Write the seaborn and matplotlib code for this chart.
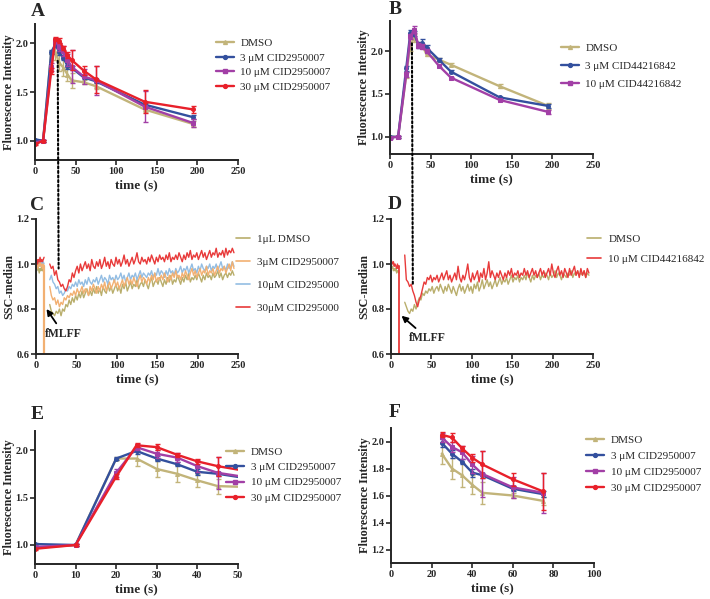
import matplotlib
matplotlib.use("Agg")
import matplotlib.pyplot as plt
import numpy as np
import seaborn as sns
from matplotlib.lines import Line2D
from matplotlib.patches import ConnectionPatch

# ---------- data: calcium flux (A, E, F share the same series) ----------
t_flux = [0, 10, 20, 25, 30, 35, 40, 45, 60, 75, 135, 195]

dmso_a = [0.97, 1.00, 1.91, 1.91, 1.80, 1.75, 1.68, 1.62, 1.60, 1.56, 1.32, 1.17]
dmso_a_err = [0.01, 0.01, 0.02, 0.08, 0.08, 0.09, 0.07, 0.08, 0.02, 0.03, 0.03, 0.03]
cid3_a = [1.01, 1.00, 1.91, 1.99, 1.91, 1.85, 1.77, 1.75, 1.65, 1.61, 1.37, 1.24]
cid3_a_err = [0.01, 0.01, 0.02, 0.03, 0.03, 0.02, 0.03, 0.02, 0.02, 0.02, 0.02, 0.02]
cid10_a = [0.98, 1.00, 1.76, 2.03, 1.96, 1.92, 1.83, 1.76, 1.66, 1.62, 1.35, 1.18]
cid10_a_err = [0.01, 0.01, 0.04, 0.03, 0.04, 0.05, 0.06, 0.17, 0.08, 0.15, 0.16, 0.04]
cid30_a = [0.96, 1.00, 1.72, 2.05, 2.03, 1.95, 1.88, 1.83, 1.72, 1.63, 1.40, 1.32]
cid30_a_err = [0.01, 0.01, 0.03, 0.02, 0.03, 0.02, 0.03, 0.10, 0.05, 0.14, 0.12, 0.04]

dmso_b = [1.00, 1.00, 1.72, 2.08, 2.15, 2.08, 2.06, 1.96, 1.90, 1.84, 1.59, 1.36]
dmso_b_err = [0.01, 0.01, 0.03, 0.08, 0.05, 0.03, 0.02, 0.02, 0.02, 0.02, 0.02, 0.03]
c44_3_b = [1.00, 1.00, 1.80, 2.21, 2.20, 2.07, 2.09, 2.04, 1.90, 1.76, 1.46, 1.36]
c44_3_b_err = [0.01, 0.01, 0.03, 0.03, 0.03, 0.03, 0.05, 0.03, 0.02, 0.02, 0.01, 0.02]
c44_10_b = [0.99, 1.00, 1.73, 2.17, 2.25, 2.06, 2.05, 2.00, 1.83, 1.69, 1.43, 1.29]
c44_10_b_err = [0.01, 0.01, 0.03, 0.03, 0.04, 0.03, 0.03, 0.02, 0.02, 0.01, 0.01, 0.02]

# ---------- data: SSC-median traces (C, D) ----------
t_pre = list(range(0, 11))
t_post = list(range(17, 246, 2))
drop_t = [9, 10, 10]
drop_val = [0.99, 0.99, 0.50]

c_red_pre = [1.01, 1.02, 1.00, 1.02, 1.01, 1.03, 1.01, 1.02, 1.01, 1.02, 1.03]
c_blue_pre = [1.00, 1.01, 0.99, 1.00, 1.01, 0.99, 1.00, 1.02, 1.00, 1.01, 1.00]
c_orange_pre = [0.99, 1.00, 0.98, 1.00, 0.99, 1.01, 0.99, 1.00, 0.98, 1.00, 0.99]
c_olive_pre = [0.98, 0.97, 0.99, 0.98, 0.96, 0.98, 0.97, 0.99, 0.97, 0.98, 0.97]

c_red = [1.00, 0.98, 0.99, 0.95, 0.97, 0.93, 0.92, 0.90, 0.91, 0.89,
         0.88, 0.90, 0.93, 0.92, 0.96, 0.94, 0.97, 0.99, 0.96, 1.00,
         0.97, 0.99, 1.01, 0.98, 1.00, 0.97, 1.02, 0.99, 0.98, 1.01,
         0.99, 1.02, 0.98, 1.00, 1.03, 0.99, 1.01, 0.98, 1.02, 1.00,
         0.99, 1.03, 1.00, 1.02, 0.99, 1.01, 1.04, 1.00, 1.02, 0.99,
         1.01, 1.03, 1.00, 1.02, 1.05, 1.01, 1.00, 1.03, 1.01, 1.02,
         1.00, 1.03, 1.01, 1.04, 1.02, 1.00, 1.03, 1.01, 1.04, 1.02,
         1.03, 1.01, 1.04, 1.02, 1.05, 1.01, 1.03, 1.02, 1.04, 1.02,
         1.05, 1.03, 1.01, 1.04, 1.02, 1.05, 1.03, 1.06, 1.02, 1.04,
         1.03, 1.05, 1.02, 1.04, 1.06, 1.03, 1.05, 1.02, 1.04, 1.06,
         1.03, 1.05, 1.04, 1.07, 1.03, 1.05, 1.04, 1.06, 1.03, 1.07,
         1.04, 1.06, 1.05, 1.07, 1.05]
c_blue = [0.93, 0.95, 0.92, 0.91, 0.89, 0.90, 0.87, 0.88, 0.86, 0.87,
          0.89, 0.88, 0.90, 0.89, 0.91, 0.90, 0.92, 0.90, 0.93, 0.91,
          0.92, 0.90, 0.93, 0.91, 0.94, 0.92, 0.91, 0.93, 0.92, 0.94,
          0.91, 0.93, 0.95, 0.92, 0.94, 0.93, 0.91, 0.95, 0.93, 0.94,
          0.92, 0.95, 0.93, 0.94, 0.96, 0.93, 0.95, 0.92, 0.94, 0.96,
          0.93, 0.95, 0.94, 0.96, 0.93, 0.95, 0.97, 0.94, 0.96, 0.95,
          0.94, 0.96, 0.95, 0.97, 0.94, 0.96, 0.95, 0.98, 0.95, 0.97,
          0.96, 0.94, 0.97, 0.95, 0.98, 0.96, 0.97, 0.95, 0.98, 0.96,
          0.97, 0.99, 0.96, 0.98, 0.97, 0.99, 0.96, 0.98, 1.00, 0.97,
          0.98, 0.96, 0.99, 0.97, 1.00, 0.98, 0.97, 0.99, 0.98, 1.00,
          0.97, 0.99, 0.98, 1.00, 0.97, 0.99, 1.01, 0.98, 0.99, 0.97,
          1.00, 0.98, 0.99, 1.01, 0.99]
c_orange = [0.90, 0.86, 0.84, 0.85, 0.82, 0.84, 0.81, 0.83, 0.82, 0.85,
            0.84, 0.86, 0.85, 0.87, 0.86, 0.88, 0.86, 0.89, 0.87, 0.88,
            0.90, 0.87, 0.89, 0.88, 0.86, 0.90, 0.88, 0.91, 0.89, 0.87,
            0.90, 0.88, 0.91, 0.89, 0.92, 0.88, 0.90, 0.92, 0.89, 0.91,
            0.93, 0.90, 0.92, 0.89, 0.91, 0.93, 0.90, 0.92, 0.94, 0.91,
            0.93, 0.91, 0.94, 0.92, 0.90, 0.93, 0.95, 0.92, 0.94, 0.93,
            0.91, 0.94, 0.92, 0.95, 0.93, 0.96, 0.92, 0.94, 0.93, 0.95,
            0.93, 0.96, 0.94, 0.92, 0.95, 0.93, 0.96, 0.94, 0.97, 0.94,
            0.95, 0.93, 0.96, 0.94, 0.97, 0.95, 0.93, 0.96, 0.98, 0.95,
            0.97, 0.94, 0.96, 0.98, 0.95, 0.97, 0.96, 0.99, 0.95, 0.97,
            0.96, 0.98, 0.95, 0.97, 0.99, 0.96, 0.98, 0.97, 0.99, 0.96,
            0.98, 1.00, 0.97, 1.01, 0.98]
c_olive = [0.82, 0.79, 0.78, 0.77, 0.79, 0.78, 0.80, 0.77, 0.80, 0.79,
           0.82, 0.81, 0.84, 0.82, 0.85, 0.83, 0.86, 0.84, 0.87, 0.85,
           0.88, 0.85, 0.87, 0.89, 0.86, 0.88, 0.86, 0.89, 0.87, 0.90,
           0.87, 0.89, 0.86, 0.90, 0.88, 0.87, 0.91, 0.88, 0.90, 0.87,
           0.89, 0.91, 0.88, 0.90, 0.87, 0.91, 0.89, 0.92, 0.88, 0.90,
           0.92, 0.89, 0.91, 0.90, 0.93, 0.89, 0.91, 0.92, 0.90, 0.93,
           0.91, 0.89, 0.92, 0.94, 0.90, 0.92, 0.93, 0.91, 0.94, 0.92,
           0.90, 0.93, 0.91, 0.94, 0.92, 0.95, 0.91, 0.93, 0.92, 0.95,
           0.93, 0.91, 0.94, 0.92, 0.95, 0.93, 0.96, 0.92, 0.94, 0.93,
           0.95, 0.93, 0.96, 0.94, 0.92, 0.95, 0.93, 0.96, 0.94, 0.95,
           0.93, 0.96, 0.94, 0.95, 0.97, 0.94, 0.96, 0.93, 0.95, 0.96,
           0.94, 0.96, 0.95, 0.97, 0.95]

d_red_pre = [1.02, 1.01, 1.00, 1.01, 0.99, 1.00, 0.99, 0.98, 1.00, 0.98, 0.99]
d_olive_pre = [0.99, 0.98, 0.99, 0.97, 0.98, 0.97, 0.98, 0.96, 0.97, 0.97, 0.96]
d_red = [1.04, 0.93, 0.92, 0.90, 0.91, 0.88, 0.86, 0.83, 0.81, 0.84,
         0.86, 0.89, 0.92, 0.91, 0.94, 0.93, 0.95, 0.92, 0.94, 0.93,
         0.95, 0.92, 0.94, 0.96, 0.93, 0.95, 0.97, 0.93, 0.95, 0.92,
         0.94, 0.96, 0.93, 0.99, 0.94, 0.92, 0.95, 0.93, 0.96, 1.00,
         0.94, 0.92, 0.96, 0.93, 0.95, 0.97, 0.92, 0.96, 0.94, 0.98,
         0.93, 0.96, 1.01, 0.94, 0.97, 0.95, 0.93, 0.96, 0.94, 0.97,
         0.95, 0.93, 0.96, 0.94, 0.97, 0.95, 0.98, 0.94, 0.96, 0.95,
         0.97, 0.94, 0.96, 0.95, 0.98, 0.95, 0.97, 0.94, 0.96, 0.98,
         0.95, 0.97, 0.94, 0.96, 0.98, 0.95, 0.97, 0.94, 0.96, 0.98,
         0.95, 1.00, 0.96, 0.94, 0.97, 0.99, 0.95, 0.97, 0.94, 0.98,
         0.96, 0.94, 0.98, 0.95, 0.97, 0.99, 0.95, 0.97, 0.94, 0.98,
         0.95, 0.97, 0.94, 0.98, 0.96]
d_olive = [0.83, 0.81, 0.79, 0.78, 0.80, 0.79, 0.82, 0.80, 0.83, 0.85,
           0.84, 0.87, 0.86, 0.88, 0.87, 0.89, 0.88, 0.90, 0.87, 0.89,
           0.90, 0.88, 0.91, 0.89, 0.87, 0.90, 0.88, 0.91, 0.89, 0.87,
           0.90, 0.88, 0.86, 0.89, 0.91, 0.88, 0.90, 0.87, 0.89, 0.91,
           0.88, 0.90, 0.87, 0.91, 0.89, 0.92, 0.88, 0.90, 0.93, 0.89,
           0.91, 0.93, 0.90, 0.92, 0.89, 0.91, 0.93, 0.90, 0.92, 0.94,
           0.91, 0.93, 0.92, 0.94, 0.91, 0.93, 0.95, 0.92, 0.94, 0.93,
           0.95, 0.92, 0.94, 0.93, 0.95, 0.93, 0.96, 0.94, 0.92, 0.95,
           0.93, 0.95, 0.94, 0.96, 0.93, 0.95, 0.94, 0.96, 0.95, 0.93,
           0.96, 0.94, 0.95, 0.97, 0.94, 0.96, 0.95, 0.93, 0.96, 0.95,
           0.94, 0.96, 0.95, 0.97, 0.94, 0.96, 0.95, 0.97, 0.95, 0.96,
           0.95, 0.97, 0.94, 0.96, 0.95]

# ---------- styling ----------
sns.set_style("ticks")
plt.rcParams["font.family"] = ["Liberation Serif", "DejaVu Serif"]

KHAKI = "#c2b47a"
BLUE = "#33509e"
PURPLE = "#a23fa6"
RED = "#e8202a"
C_OLIVE = "#b9ae6c"
C_ORANGE = "#f2b072"
C_BLUE = "#93bde3"
C_RED = "#e83a3a"

fig = plt.figure(figsize=(7.10, 5.99), dpi=100)
W, H = 710, 599


def add_ax(left, top, right, bottom):
    return fig.add_axes([left / W, 1 - bottom / H, (right - left) / W, (bottom - top) / H])


axA = add_ax(35, 24, 238, 160)
axB = add_ax(390, 21, 593, 154)
axC = add_ax(36, 219, 238, 354)
axD = add_ax(391, 219, 593, 354)
axE = add_ax(35, 431, 238, 564)
axF = add_ax(391, 428, 594, 563)


def style_ax(ax, xlim, xticks, ylim, yticks, ylabel):
    ax.set_xlim(*xlim)
    ax.set_ylim(*ylim)
    ax.set_xticks(xticks)
    ax.set_yticks(yticks)
    ax.set_xticklabels([str(v) for v in xticks], fontsize=7.5, fontweight="bold")
    ax.set_yticklabels([f"{v:.1f}" for v in yticks], fontsize=7.5, fontweight="bold")
    ax.set_xlabel("time (s)", fontsize=9.5, fontweight="bold", labelpad=3)
    ax.set_ylabel(ylabel, fontsize=8.7, fontweight="bold", labelpad=0.5)
    for s in ["top", "right"]:
        ax.spines[s].set_visible(False)
    for s in ["left", "bottom"]:
        ax.spines[s].set_linewidth(1.4)
    ax.tick_params(width=1.2, length=3.5, pad=1.2, direction="out")
    ax.set_facecolor("none")


def flux_series(ax, x, y, err, color, marker):
    sns.lineplot(x=x, y=y, ax=ax, color=color, lw=1.7, marker=marker, markersize=2.8,
                 markeredgecolor=color, estimator=None, sort=False, legend=False)
    ax.errorbar(x, y, yerr=err, fmt="none", ecolor=color, elinewidth=1.0, capsize=1.8,
                capthick=1.0)


def flux_legend(ax, labels, colors, markers, anchor, spacing):
    handles = [Line2D([0], [0], color=c, lw=1.7, marker=m, markersize=2.8)
               for c, m in zip(colors, markers)]
    ax.legend(handles, labels, loc="upper left", bbox_to_anchor=anchor,
              frameon=False, fontsize=8, handlelength=1.6, handletextpad=0.6,
              labelspacing=spacing, borderaxespad=0)


yl_fi = "Fluorescence Intensity"
flux_labels = ["DMSO", "3 μM CID2950007", "10 μM CID2950007", "30 μM CID2950007"]
flux_colors = [KHAKI, BLUE, PURPLE, RED]
flux_markers = ["^", "o", "s", "o"]
flux_a = [dmso_a, cid3_a, cid10_a, cid30_a]
flux_a_err = [dmso_a_err, cid3_a_err, cid10_a_err, cid30_a_err]

# ---- A ----
for y, e, c, m in zip(flux_a, flux_a_err, flux_colors, flux_markers):
    flux_series(axA, t_flux, y, e, c, m)
style_ax(axA, (0, 250), [0, 50, 100, 150, 200, 250], (0.8, 2.2), [1.0, 1.5, 2.0], yl_fi)
flux_legend(axA, flux_labels, flux_colors, flux_markers, (0.87, 0.93), 0.45)

# ---- B ----
b_labels = ["DMSO", "3 μM CID44216842", "10 μM CID44216842"]
b_colors = [KHAKI, BLUE, PURPLE]
b_markers = ["^", "o", "s"]
for y, e, c, m in zip([dmso_b, c44_3_b, c44_10_b],
                      [dmso_b_err, c44_3_b_err, c44_10_b_err], b_colors, b_markers):
    flux_series(axB, t_flux, y, e, c, m)
style_ax(axB, (0, 250), [0, 50, 100, 150, 200, 250], (0.8, 2.35), [1.0, 1.5, 2.0], yl_fi)
flux_legend(axB, b_labels, b_colors, b_markers, (0.82, 0.87), 0.75)

# ---- E ----
for y, e, c, m in zip(flux_a, flux_a_err, flux_colors, flux_markers):
    flux_series(axE, t_flux, y, e, c, m)
style_ax(axE, (0, 50), [0, 10, 20, 30, 40, 50], (0.8, 2.2), [1.0, 1.5, 2.0], yl_fi)
flux_legend(axE, flux_labels, flux_colors, flux_markers, (0.92, 0.91), 0.48)

# ---- F ----
idx_f = [i for i, t in enumerate(t_flux) if 25 <= t <= 75]
for y, e, c, m in zip(flux_a, flux_a_err, flux_colors, flux_markers):
    flux_series(axF, [t_flux[i] for i in idx_f], [y[i] for i in idx_f],
                [e[i] for i in idx_f], c, m)
style_ax(axF, (0, 100), [0, 20, 40, 60, 80, 100], (1.1, 2.1),
         [1.2, 1.4, 1.6, 1.8, 2.0], yl_fi)
flux_legend(axF, flux_labels, flux_colors, flux_markers, (0.94, 0.98), 0.55)


# ---- C / D ----
def trace(ax, xs, ys, color, lw=1.0):
    sns.lineplot(x=xs, y=ys, ax=ax, color=color, lw=lw, estimator=None, sort=False,
                 legend=False)


c_sets = [(c_olive_pre, c_olive, C_OLIVE), (c_blue_pre, c_blue, C_BLUE),
          (c_orange_pre, c_orange, C_ORANGE), (c_red_pre, c_red, C_RED)]
for pre, post, col in c_sets:
    trace(axC, t_pre, pre, col)
    trace(axC, t_post, post, col)
trace(axC, drop_t, drop_val, C_ORANGE, lw=1.6)
style_ax(axC, (0, 250), [0, 50, 100, 150, 200, 250], (0.6, 1.2),
         [0.6, 0.8, 1.0, 1.2], "SSC-median")
c_labels = ["1μL DMSO", "3μM CID2950007", "10μM CID295000", "30μM CID295000"]
c_cols = [C_OLIVE, C_ORANGE, C_BLUE, C_RED]
axC.legend([Line2D([0], [0], color=c, lw=1.2) for c in c_cols], c_labels,
           loc="upper left", bbox_to_anchor=(0.97, 0.92), frameon=False, fontsize=8,
           handlelength=1.2, handletextpad=0.7, labelspacing=1.2, borderaxespad=0)
axC.annotate("fMLFF", xy=(13, 0.80), xytext=(11, 0.69), fontsize=8.5,
             fontweight="bold", ha="left", va="center",
             arrowprops=dict(arrowstyle="-|>", color="black", lw=1.3,
                             mutation_scale=9, shrinkA=1, shrinkB=0))

for pre, post, col in [(d_olive_pre, d_olive, C_OLIVE), (d_red_pre, d_red, C_RED)]:
    trace(axD, t_pre, pre, col)
    trace(axD, t_post, post, col)
trace(axD, drop_t, drop_val, C_RED, lw=1.3)
style_ax(axD, (0, 250), [0, 50, 100, 150, 200, 250], (0.6, 1.2),
         [0.6, 0.8, 1.0, 1.2], "SSC-median")
axD.legend([Line2D([0], [0], color=c, lw=1.2) for c in [C_OLIVE, C_RED]],
           ["DMSO", "10 μM CID44216842"], loc="upper left",
           bbox_to_anchor=(0.95, 0.92), frameon=False, fontsize=8,
           handlelength=1.2, handletextpad=0.7, labelspacing=0.9, borderaxespad=0)
axD.annotate("fMLFF", xy=(13, 0.77), xytext=(22, 0.67), fontsize=8.5,
             fontweight="bold", ha="left", va="center",
             arrowprops=dict(arrowstyle="-|>", color="black", lw=1.3,
                             mutation_scale=9, shrinkA=1, shrinkB=0))

# dotted guide lines linking the peak with the SSC dip
for top_ax, bot_ax, x, y_top, y_bot in [(axA, axC, 28, 1.82, 0.98),
                                        (axB, axD, 27, 2.09, 0.91)]:
    con = ConnectionPatch(xyA=(x, y_top), coordsA=top_ax.transData,
                          xyB=(x, y_bot), coordsB=bot_ax.transData,
                          color="black", lw=1.5, ls=(0, (1, 1.2)))
    fig.add_artist(con)

# panel letters
for letter, px, py in [("A", 31, 3), ("B", 389, 1), ("C", 30, 197),
                       ("D", 388, 196), ("E", 31, 406), ("F", 389, 404)]:
    fig.text(px / W, 1 - py / H, letter, fontsize=14, fontweight="bold",
             ha="left", va="top")

fig.savefig("out.png", dpi=100)
